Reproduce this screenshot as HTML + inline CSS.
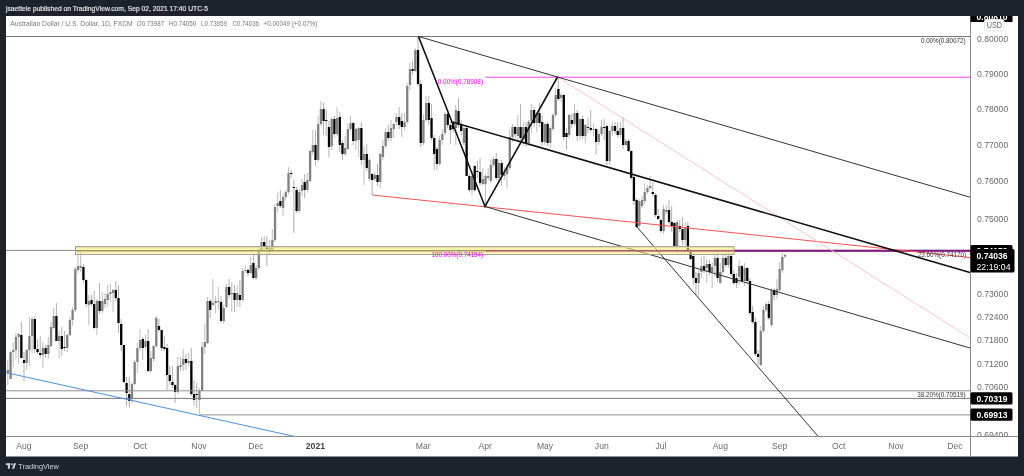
<!DOCTYPE html><html><head><meta charset="utf-8"><style>
html,body{margin:0;padding:0;background:#1e222d;width:1024px;height:476px;overflow:hidden}
svg{display:block;will-change:transform}
text{font-family:"Liberation Sans",sans-serif}
</style></head><body>
<svg width="1024" height="476" viewBox="0 0 1024 476">

<rect x="0" y="0" width="1024" height="476" fill="#1e222d"/>
<text x="6" y="10.6" font-size="8" fill="#eeeeee" stroke="#eeeeee" stroke-width="0.15" textLength="202" lengthAdjust="spacingAndGlyphs">jsaettele published on TradingView.com, Sep 02, 2021 17:40 UTC-5</text>
<rect x="6" y="16" width="1012" height="440.5" fill="#ffffff"/>
<text x="10.3" y="26" font-size="7.6" fill="#777777" textLength="122.4" lengthAdjust="spacingAndGlyphs">Australian Dollar / U.S. Dollar, 1D, FXCM</text>
<text x="136.8" y="26" font-size="7.6" fill="#777777" textLength="27.3" lengthAdjust="spacingAndGlyphs">O0.73987</text>
<text x="168.8" y="26" font-size="7.6" fill="#777777" textLength="27.5" lengthAdjust="spacingAndGlyphs">H0.74050</text>
<text x="201.0" y="26" font-size="7.6" fill="#777777" textLength="26.0" lengthAdjust="spacingAndGlyphs">L0.73959</text>
<text x="232.4" y="26" font-size="7.6" fill="#777777" textLength="26.6" lengthAdjust="spacingAndGlyphs">C0.74036</text>
<text x="263.6" y="26" font-size="7.6" fill="#777777" textLength="53.7" lengthAdjust="spacingAndGlyphs">+0.00049 (+0.07%)</text>
<defs><clipPath id="cp"><rect x="6" y="16" width="964.5" height="420.5"/></clipPath></defs>
<g clip-path="url(#cp)">
<line x1="7.81" y1="360.0" x2="7.81" y2="385.0" stroke="#bdbdbd" stroke-width="1"/>
<rect x="6.71" y="370.0" width="2.3" height="3.0" fill="#808080"/>
<line x1="10.51" y1="351.0" x2="10.51" y2="379.0" stroke="#bdbdbd" stroke-width="1"/>
<rect x="9.41" y="352.0" width="2.3" height="27.0" fill="#808080"/>
<line x1="13.21" y1="342.0" x2="13.21" y2="367.0" stroke="#bdbdbd" stroke-width="1"/>
<rect x="12.11" y="350.0" width="2.3" height="2.0" fill="#808080"/>
<line x1="15.90" y1="333.0" x2="15.90" y2="359.0" stroke="#bdbdbd" stroke-width="1"/>
<rect x="14.80" y="337.0" width="2.3" height="13.0" fill="#808080"/>
<line x1="18.60" y1="333.0" x2="18.60" y2="364.0" stroke="#bdbdbd" stroke-width="1"/>
<rect x="17.50" y="334.0" width="2.3" height="3.0" fill="#808080"/>
<line x1="21.30" y1="322.0" x2="21.30" y2="358.0" stroke="#b0b0b0" stroke-width="1"/>
<rect x="20.20" y="335.0" width="2.3" height="23.0" fill="#000000"/>
<line x1="24.00" y1="352.0" x2="24.00" y2="381.0" stroke="#b0b0b0" stroke-width="1"/>
<rect x="22.90" y="360.0" width="2.3" height="3.0" fill="#000000"/>
<line x1="26.70" y1="349.0" x2="26.70" y2="370.0" stroke="#bdbdbd" stroke-width="1"/>
<rect x="25.60" y="350.0" width="2.3" height="13.0" fill="#808080"/>
<line x1="29.40" y1="317.0" x2="29.40" y2="366.0" stroke="#bdbdbd" stroke-width="1"/>
<rect x="28.30" y="336.0" width="2.3" height="14.0" fill="#808080"/>
<line x1="32.10" y1="317.0" x2="32.10" y2="354.0" stroke="#bdbdbd" stroke-width="1"/>
<rect x="31.00" y="319.0" width="2.3" height="17.0" fill="#808080"/>
<line x1="34.79" y1="316.0" x2="34.79" y2="353.0" stroke="#b0b0b0" stroke-width="1"/>
<rect x="33.69" y="319.0" width="2.3" height="30.0" fill="#000000"/>
<line x1="37.49" y1="339.0" x2="37.49" y2="354.0" stroke="#b0b0b0" stroke-width="1"/>
<rect x="36.39" y="349.0" width="2.3" height="3.0" fill="#000000"/>
<line x1="40.19" y1="336.0" x2="40.19" y2="358.0" stroke="#b0b0b0" stroke-width="1"/>
<rect x="39.09" y="353.0" width="2.3" height="2.0" fill="#000000"/>
<line x1="42.89" y1="342.0" x2="42.89" y2="368.0" stroke="#bdbdbd" stroke-width="1"/>
<rect x="41.79" y="348.0" width="2.3" height="7.0" fill="#808080"/>
<line x1="45.59" y1="345.0" x2="45.59" y2="358.0" stroke="#b0b0b0" stroke-width="1"/>
<rect x="44.49" y="348.0" width="2.3" height="6.0" fill="#000000"/>
<line x1="48.29" y1="337.0" x2="48.29" y2="359.0" stroke="#bdbdbd" stroke-width="1"/>
<rect x="47.19" y="345.0" width="2.3" height="9.0" fill="#808080"/>
<line x1="50.99" y1="322.0" x2="50.99" y2="347.0" stroke="#bdbdbd" stroke-width="1"/>
<rect x="49.89" y="327.0" width="2.3" height="19.0" fill="#808080"/>
<line x1="53.68" y1="308.0" x2="53.68" y2="329.0" stroke="#bdbdbd" stroke-width="1"/>
<rect x="52.58" y="316.0" width="2.3" height="12.0" fill="#808080"/>
<line x1="56.38" y1="303.0" x2="56.38" y2="341.0" stroke="#b0b0b0" stroke-width="1"/>
<rect x="55.28" y="316.0" width="2.3" height="25.0" fill="#000000"/>
<line x1="59.08" y1="331.0" x2="59.08" y2="358.0" stroke="#bdbdbd" stroke-width="1"/>
<rect x="57.98" y="336.0" width="2.3" height="5.0" fill="#808080"/>
<line x1="61.78" y1="327.0" x2="61.78" y2="356.0" stroke="#b0b0b0" stroke-width="1"/>
<rect x="60.68" y="336.0" width="2.3" height="13.0" fill="#000000"/>
<line x1="64.48" y1="331.0" x2="64.48" y2="351.0" stroke="#b0b0b0" stroke-width="1"/>
<rect x="63.38" y="347.0" width="2.3" height="1.0" fill="#000000"/>
<line x1="67.18" y1="334.0" x2="67.18" y2="352.0" stroke="#bdbdbd" stroke-width="1"/>
<rect x="66.08" y="335.0" width="2.3" height="13.0" fill="#808080"/>
<line x1="69.88" y1="317.0" x2="69.88" y2="336.0" stroke="#bdbdbd" stroke-width="1"/>
<rect x="68.78" y="320.0" width="2.3" height="15.0" fill="#808080"/>
<line x1="72.57" y1="307.0" x2="72.57" y2="326.0" stroke="#bdbdbd" stroke-width="1"/>
<rect x="71.47" y="310.0" width="2.3" height="10.0" fill="#808080"/>
<line x1="75.27" y1="267.0" x2="75.27" y2="312.0" stroke="#bdbdbd" stroke-width="1"/>
<rect x="74.17" y="269.0" width="2.3" height="41.0" fill="#808080"/>
<line x1="77.97" y1="251.0" x2="77.97" y2="273.0" stroke="#bdbdbd" stroke-width="1"/>
<rect x="76.87" y="266.0" width="2.3" height="4.0" fill="#808080"/>
<line x1="80.67" y1="252.0" x2="80.67" y2="272.0" stroke="#bdbdbd" stroke-width="1"/>
<rect x="79.57" y="266.0" width="2.3" height="2.0" fill="#808080"/>
<line x1="83.37" y1="264.0" x2="83.37" y2="283.0" stroke="#b0b0b0" stroke-width="1"/>
<rect x="82.27" y="267.0" width="2.3" height="13.0" fill="#000000"/>
<line x1="86.07" y1="279.0" x2="86.07" y2="307.0" stroke="#b0b0b0" stroke-width="1"/>
<rect x="84.97" y="280.0" width="2.3" height="24.0" fill="#000000"/>
<line x1="88.77" y1="295.0" x2="88.77" y2="325.0" stroke="#bdbdbd" stroke-width="1"/>
<rect x="87.67" y="301.0" width="2.3" height="4.0" fill="#808080"/>
<line x1="91.47" y1="295.0" x2="91.47" y2="306.0" stroke="#b0b0b0" stroke-width="1"/>
<rect x="90.37" y="300.0" width="2.3" height="4.0" fill="#000000"/>
<line x1="94.16" y1="291.0" x2="94.16" y2="329.0" stroke="#b0b0b0" stroke-width="1"/>
<rect x="93.06" y="304.0" width="2.3" height="24.0" fill="#000000"/>
<line x1="96.86" y1="299.0" x2="96.86" y2="335.0" stroke="#bdbdbd" stroke-width="1"/>
<rect x="95.76" y="301.0" width="2.3" height="27.0" fill="#808080"/>
<line x1="99.56" y1="283.0" x2="99.56" y2="314.0" stroke="#b0b0b0" stroke-width="1"/>
<rect x="98.46" y="301.0" width="2.3" height="10.0" fill="#000000"/>
<line x1="102.26" y1="292.0" x2="102.26" y2="313.0" stroke="#bdbdbd" stroke-width="1"/>
<rect x="101.16" y="301.0" width="2.3" height="10.0" fill="#808080"/>
<line x1="104.96" y1="293.0" x2="104.96" y2="308.0" stroke="#bdbdbd" stroke-width="1"/>
<rect x="103.86" y="299.0" width="2.3" height="5.0" fill="#808080"/>
<line x1="107.66" y1="285.0" x2="107.66" y2="307.0" stroke="#bdbdbd" stroke-width="1"/>
<rect x="106.56" y="294.0" width="2.3" height="6.0" fill="#808080"/>
<line x1="110.36" y1="284.0" x2="110.36" y2="302.0" stroke="#bdbdbd" stroke-width="1"/>
<rect x="109.26" y="292.0" width="2.3" height="2.0" fill="#808080"/>
<line x1="113.05" y1="289.0" x2="113.05" y2="312.0" stroke="#bdbdbd" stroke-width="1"/>
<rect x="111.95" y="290.0" width="2.3" height="3.0" fill="#808080"/>
<line x1="115.75" y1="281.0" x2="115.75" y2="301.0" stroke="#b0b0b0" stroke-width="1"/>
<rect x="114.65" y="290.0" width="2.3" height="8.0" fill="#000000"/>
<line x1="118.45" y1="285.0" x2="118.45" y2="333.0" stroke="#b0b0b0" stroke-width="1"/>
<rect x="117.35" y="298.0" width="2.3" height="25.0" fill="#000000"/>
<line x1="121.15" y1="319.0" x2="121.15" y2="351.0" stroke="#b0b0b0" stroke-width="1"/>
<rect x="120.05" y="324.0" width="2.3" height="21.0" fill="#000000"/>
<line x1="123.85" y1="345.0" x2="123.85" y2="383.0" stroke="#b0b0b0" stroke-width="1"/>
<rect x="122.75" y="345.0" width="2.3" height="37.0" fill="#000000"/>
<line x1="126.55" y1="377.0" x2="126.55" y2="406.0" stroke="#b0b0b0" stroke-width="1"/>
<rect x="125.45" y="383.0" width="2.3" height="10.0" fill="#000000"/>
<line x1="129.25" y1="377.0" x2="129.25" y2="407.0" stroke="#b0b0b0" stroke-width="1"/>
<rect x="128.15" y="394.0" width="2.3" height="7.0" fill="#000000"/>
<line x1="131.94" y1="382.0" x2="131.94" y2="403.0" stroke="#bdbdbd" stroke-width="1"/>
<rect x="130.84" y="384.0" width="2.3" height="14.0" fill="#808080"/>
<line x1="134.64" y1="360.0" x2="134.64" y2="385.0" stroke="#bdbdbd" stroke-width="1"/>
<rect x="133.54" y="362.0" width="2.3" height="22.0" fill="#808080"/>
<line x1="137.34" y1="343.0" x2="137.34" y2="373.0" stroke="#bdbdbd" stroke-width="1"/>
<rect x="136.24" y="348.0" width="2.3" height="14.0" fill="#808080"/>
<line x1="140.04" y1="329.0" x2="140.04" y2="351.0" stroke="#bdbdbd" stroke-width="1"/>
<rect x="138.94" y="340.0" width="2.3" height="8.0" fill="#808080"/>
<line x1="142.74" y1="337.0" x2="142.74" y2="360.0" stroke="#b0b0b0" stroke-width="1"/>
<rect x="141.64" y="339.0" width="2.3" height="9.0" fill="#000000"/>
<line x1="145.44" y1="335.0" x2="145.44" y2="350.0" stroke="#bdbdbd" stroke-width="1"/>
<rect x="144.34" y="341.0" width="2.3" height="6.0" fill="#808080"/>
<line x1="148.14" y1="329.0" x2="148.14" y2="372.0" stroke="#b0b0b0" stroke-width="1"/>
<rect x="147.04" y="341.0" width="2.3" height="30.0" fill="#000000"/>
<line x1="150.83" y1="351.0" x2="150.83" y2="373.0" stroke="#bdbdbd" stroke-width="1"/>
<rect x="149.73" y="358.0" width="2.3" height="13.0" fill="#808080"/>
<line x1="153.53" y1="345.0" x2="153.53" y2="362.0" stroke="#bdbdbd" stroke-width="1"/>
<rect x="152.43" y="346.0" width="2.3" height="13.0" fill="#808080"/>
<line x1="156.23" y1="316.0" x2="156.23" y2="348.0" stroke="#bdbdbd" stroke-width="1"/>
<rect x="155.13" y="318.0" width="2.3" height="28.0" fill="#808080"/>
<line x1="158.93" y1="319.0" x2="158.93" y2="331.0" stroke="#b0b0b0" stroke-width="1"/>
<rect x="157.83" y="326.0" width="2.3" height="4.0" fill="#000000"/>
<line x1="161.63" y1="330.0" x2="161.63" y2="351.0" stroke="#b0b0b0" stroke-width="1"/>
<rect x="160.53" y="330.0" width="2.3" height="18.0" fill="#000000"/>
<line x1="164.33" y1="336.0" x2="164.33" y2="351.0" stroke="#b0b0b0" stroke-width="1"/>
<rect x="163.23" y="347.0" width="2.3" height="2.0" fill="#000000"/>
<line x1="167.03" y1="344.0" x2="167.03" y2="390.0" stroke="#b0b0b0" stroke-width="1"/>
<rect x="165.93" y="348.0" width="2.3" height="27.0" fill="#000000"/>
<line x1="169.72" y1="366.0" x2="169.72" y2="385.0" stroke="#b0b0b0" stroke-width="1"/>
<rect x="168.62" y="375.0" width="2.3" height="6.0" fill="#000000"/>
<line x1="172.42" y1="366.0" x2="172.42" y2="388.0" stroke="#b0b0b0" stroke-width="1"/>
<rect x="171.32" y="382.0" width="2.3" height="3.0" fill="#000000"/>
<line x1="175.12" y1="384.0" x2="175.12" y2="403.0" stroke="#b0b0b0" stroke-width="1"/>
<rect x="174.02" y="385.0" width="2.3" height="7.0" fill="#000000"/>
<line x1="177.82" y1="357.0" x2="177.82" y2="394.0" stroke="#bdbdbd" stroke-width="1"/>
<rect x="176.72" y="366.0" width="2.3" height="26.0" fill="#808080"/>
<line x1="180.52" y1="357.0" x2="180.52" y2="371.0" stroke="#bdbdbd" stroke-width="1"/>
<rect x="179.42" y="365.0" width="2.3" height="2.0" fill="#808080"/>
<line x1="183.22" y1="349.0" x2="183.22" y2="371.0" stroke="#bdbdbd" stroke-width="1"/>
<rect x="182.12" y="359.0" width="2.3" height="6.0" fill="#808080"/>
<line x1="185.92" y1="354.0" x2="185.92" y2="370.0" stroke="#b0b0b0" stroke-width="1"/>
<rect x="184.82" y="359.0" width="2.3" height="4.0" fill="#000000"/>
<line x1="188.61" y1="353.0" x2="188.61" y2="366.0" stroke="#bdbdbd" stroke-width="1"/>
<rect x="187.51" y="361.0" width="2.3" height="2.0" fill="#808080"/>
<line x1="191.31" y1="348.0" x2="191.31" y2="396.0" stroke="#b0b0b0" stroke-width="1"/>
<rect x="190.21" y="361.0" width="2.3" height="33.0" fill="#000000"/>
<line x1="194.01" y1="380.0" x2="194.01" y2="406.0" stroke="#b0b0b0" stroke-width="1"/>
<rect x="192.91" y="394.0" width="2.3" height="6.0" fill="#000000"/>
<line x1="196.71" y1="383.0" x2="196.71" y2="408.0" stroke="#b0b0b0" stroke-width="1"/>
<rect x="195.61" y="394.0" width="2.3" height="1.0" fill="#000000"/>
<line x1="199.41" y1="388.0" x2="199.41" y2="414.0" stroke="#bdbdbd" stroke-width="1"/>
<rect x="198.31" y="391.0" width="2.3" height="9.0" fill="#808080"/>
<line x1="202.11" y1="342.0" x2="202.11" y2="391.0" stroke="#bdbdbd" stroke-width="1"/>
<rect x="201.01" y="347.0" width="2.3" height="44.0" fill="#808080"/>
<line x1="204.81" y1="324.0" x2="204.81" y2="354.0" stroke="#bdbdbd" stroke-width="1"/>
<rect x="203.71" y="342.0" width="2.3" height="5.0" fill="#808080"/>
<line x1="207.50" y1="297.0" x2="207.50" y2="344.0" stroke="#bdbdbd" stroke-width="1"/>
<rect x="206.40" y="301.0" width="2.3" height="42.0" fill="#808080"/>
<line x1="210.20" y1="299.0" x2="210.20" y2="318.0" stroke="#b0b0b0" stroke-width="1"/>
<rect x="209.10" y="301.0" width="2.3" height="9.0" fill="#000000"/>
<line x1="212.90" y1="279.0" x2="212.90" y2="306.0" stroke="#bdbdbd" stroke-width="1"/>
<rect x="211.80" y="303.0" width="2.3" height="2.0" fill="#808080"/>
<line x1="215.60" y1="296.0" x2="215.60" y2="313.0" stroke="#bdbdbd" stroke-width="1"/>
<rect x="214.50" y="301.0" width="2.3" height="2.0" fill="#808080"/>
<line x1="218.30" y1="287.0" x2="218.30" y2="310.0" stroke="#bdbdbd" stroke-width="1"/>
<rect x="217.20" y="301.0" width="2.3" height="1.0" fill="#808080"/>
<line x1="221.00" y1="296.0" x2="221.00" y2="323.0" stroke="#b0b0b0" stroke-width="1"/>
<rect x="219.90" y="302.0" width="2.3" height="19.0" fill="#000000"/>
<line x1="223.70" y1="305.0" x2="223.70" y2="324.0" stroke="#bdbdbd" stroke-width="1"/>
<rect x="222.60" y="308.0" width="2.3" height="13.0" fill="#808080"/>
<line x1="226.39" y1="284.0" x2="226.39" y2="308.0" stroke="#bdbdbd" stroke-width="1"/>
<rect x="225.29" y="287.0" width="2.3" height="20.0" fill="#808080"/>
<line x1="229.09" y1="279.0" x2="229.09" y2="298.0" stroke="#b0b0b0" stroke-width="1"/>
<rect x="227.99" y="287.0" width="2.3" height="8.0" fill="#000000"/>
<line x1="231.79" y1="282.0" x2="231.79" y2="312.0" stroke="#bdbdbd" stroke-width="1"/>
<rect x="230.69" y="293.0" width="2.3" height="1.0" fill="#808080"/>
<line x1="234.49" y1="285.0" x2="234.49" y2="312.0" stroke="#b0b0b0" stroke-width="1"/>
<rect x="233.39" y="293.0" width="2.3" height="7.0" fill="#000000"/>
<line x1="237.19" y1="285.0" x2="237.19" y2="307.0" stroke="#bdbdbd" stroke-width="1"/>
<rect x="236.09" y="293.0" width="2.3" height="7.0" fill="#808080"/>
<line x1="239.89" y1="280.0" x2="239.89" y2="307.0" stroke="#b0b0b0" stroke-width="1"/>
<rect x="238.79" y="295.0" width="2.3" height="5.0" fill="#000000"/>
<line x1="242.59" y1="268.0" x2="242.59" y2="301.0" stroke="#bdbdbd" stroke-width="1"/>
<rect x="241.49" y="271.0" width="2.3" height="29.0" fill="#808080"/>
<line x1="245.29" y1="265.0" x2="245.29" y2="273.0" stroke="#bdbdbd" stroke-width="1"/>
<rect x="244.19" y="270.0" width="2.3" height="1.0" fill="#808080"/>
<line x1="247.98" y1="268.0" x2="247.98" y2="276.0" stroke="#b0b0b0" stroke-width="1"/>
<rect x="246.88" y="270.0" width="2.3" height="3.0" fill="#000000"/>
<line x1="250.68" y1="257.0" x2="250.68" y2="274.0" stroke="#bdbdbd" stroke-width="1"/>
<rect x="249.58" y="265.0" width="2.3" height="8.0" fill="#808080"/>
<line x1="253.38" y1="255.0" x2="253.38" y2="279.0" stroke="#b0b0b0" stroke-width="1"/>
<rect x="252.28" y="263.0" width="2.3" height="15.0" fill="#000000"/>
<line x1="256.08" y1="265.0" x2="256.08" y2="280.0" stroke="#bdbdbd" stroke-width="1"/>
<rect x="254.98" y="268.0" width="2.3" height="10.0" fill="#808080"/>
<line x1="258.78" y1="246.0" x2="258.78" y2="270.0" stroke="#bdbdbd" stroke-width="1"/>
<rect x="257.68" y="250.0" width="2.3" height="18.0" fill="#808080"/>
<line x1="261.48" y1="237.0" x2="261.48" y2="252.0" stroke="#bdbdbd" stroke-width="1"/>
<rect x="260.38" y="242.0" width="2.3" height="8.0" fill="#808080"/>
<line x1="264.18" y1="236.0" x2="264.18" y2="250.0" stroke="#b0b0b0" stroke-width="1"/>
<rect x="263.08" y="242.0" width="2.3" height="4.0" fill="#000000"/>
<line x1="266.87" y1="236.0" x2="266.87" y2="266.0" stroke="#b0b0b0" stroke-width="1"/>
<rect x="265.77" y="246.0" width="2.3" height="3.0" fill="#000000"/>
<line x1="269.57" y1="240.0" x2="269.57" y2="255.0" stroke="#bdbdbd" stroke-width="1"/>
<rect x="268.47" y="247.0" width="2.3" height="5.0" fill="#808080"/>
<line x1="272.27" y1="229.0" x2="272.27" y2="252.0" stroke="#bdbdbd" stroke-width="1"/>
<rect x="271.17" y="240.0" width="2.3" height="10.0" fill="#808080"/>
<line x1="274.97" y1="204.0" x2="274.97" y2="242.0" stroke="#bdbdbd" stroke-width="1"/>
<rect x="273.87" y="207.0" width="2.3" height="33.0" fill="#808080"/>
<line x1="277.67" y1="193.0" x2="277.67" y2="212.0" stroke="#bdbdbd" stroke-width="1"/>
<rect x="276.57" y="203.0" width="2.3" height="3.0" fill="#808080"/>
<line x1="280.37" y1="190.0" x2="280.37" y2="208.0" stroke="#b0b0b0" stroke-width="1"/>
<rect x="279.27" y="201.0" width="2.3" height="5.0" fill="#000000"/>
<line x1="283.07" y1="194.0" x2="283.07" y2="216.0" stroke="#bdbdbd" stroke-width="1"/>
<rect x="281.97" y="197.0" width="2.3" height="11.0" fill="#808080"/>
<line x1="285.76" y1="190.0" x2="285.76" y2="200.0" stroke="#bdbdbd" stroke-width="1"/>
<rect x="284.66" y="192.0" width="2.3" height="5.0" fill="#808080"/>
<line x1="288.46" y1="167.0" x2="288.46" y2="194.0" stroke="#bdbdbd" stroke-width="1"/>
<rect x="287.36" y="173.0" width="2.3" height="19.0" fill="#808080"/>
<line x1="291.16" y1="170.0" x2="291.16" y2="178.0" stroke="#b0b0b0" stroke-width="1"/>
<rect x="290.06" y="173.0" width="2.3" height="1.0" fill="#000000"/>
<line x1="293.86" y1="180.0" x2="293.86" y2="233.0" stroke="#b0b0b0" stroke-width="1"/>
<rect x="292.76" y="187.0" width="2.3" height="1.0" fill="#000000"/>
<line x1="296.56" y1="187.0" x2="296.56" y2="213.0" stroke="#b0b0b0" stroke-width="1"/>
<rect x="295.46" y="190.0" width="2.3" height="21.0" fill="#000000"/>
<line x1="299.26" y1="189.0" x2="299.26" y2="213.0" stroke="#bdbdbd" stroke-width="1"/>
<rect x="298.16" y="192.0" width="2.3" height="19.0" fill="#808080"/>
<line x1="301.96" y1="179.0" x2="301.96" y2="196.0" stroke="#bdbdbd" stroke-width="1"/>
<rect x="300.86" y="185.0" width="2.3" height="6.0" fill="#808080"/>
<line x1="304.65" y1="174.0" x2="304.65" y2="198.0" stroke="#b0b0b0" stroke-width="1"/>
<rect x="303.55" y="182.0" width="2.3" height="8.0" fill="#000000"/>
<line x1="307.35" y1="173.0" x2="307.35" y2="192.0" stroke="#bdbdbd" stroke-width="1"/>
<rect x="306.25" y="180.0" width="2.3" height="10.0" fill="#808080"/>
<line x1="310.05" y1="150.0" x2="310.05" y2="182.0" stroke="#bdbdbd" stroke-width="1"/>
<rect x="308.95" y="151.0" width="2.3" height="30.0" fill="#808080"/>
<line x1="312.75" y1="130.0" x2="312.75" y2="155.0" stroke="#bdbdbd" stroke-width="1"/>
<rect x="311.65" y="145.0" width="2.3" height="7.0" fill="#808080"/>
<line x1="315.45" y1="130.0" x2="315.45" y2="166.0" stroke="#b0b0b0" stroke-width="1"/>
<rect x="314.35" y="145.0" width="2.3" height="15.0" fill="#000000"/>
<line x1="318.15" y1="116.0" x2="318.15" y2="162.0" stroke="#bdbdbd" stroke-width="1"/>
<rect x="317.05" y="124.0" width="2.3" height="36.0" fill="#808080"/>
<line x1="320.85" y1="101.0" x2="320.85" y2="126.0" stroke="#bdbdbd" stroke-width="1"/>
<rect x="319.75" y="109.0" width="2.3" height="15.0" fill="#808080"/>
<line x1="323.54" y1="103.0" x2="323.54" y2="135.0" stroke="#b0b0b0" stroke-width="1"/>
<rect x="322.44" y="109.0" width="2.3" height="12.0" fill="#000000"/>
<line x1="326.24" y1="110.0" x2="326.24" y2="136.0" stroke="#b0b0b0" stroke-width="1"/>
<rect x="325.14" y="120.0" width="2.3" height="1.0" fill="#000000"/>
<line x1="328.94" y1="121.0" x2="328.94" y2="157.0" stroke="#b0b0b0" stroke-width="1"/>
<rect x="327.84" y="127.0" width="2.3" height="20.0" fill="#000000"/>
<line x1="331.64" y1="117.0" x2="331.64" y2="150.0" stroke="#bdbdbd" stroke-width="1"/>
<rect x="330.54" y="119.0" width="2.3" height="27.0" fill="#808080"/>
<line x1="334.34" y1="116.0" x2="334.34" y2="137.0" stroke="#b0b0b0" stroke-width="1"/>
<rect x="333.24" y="119.0" width="2.3" height="15.0" fill="#000000"/>
<line x1="337.04" y1="107.0" x2="337.04" y2="136.0" stroke="#bdbdbd" stroke-width="1"/>
<rect x="335.94" y="118.0" width="2.3" height="16.0" fill="#808080"/>
<line x1="339.74" y1="112.0" x2="339.74" y2="152.0" stroke="#b0b0b0" stroke-width="1"/>
<rect x="338.64" y="117.0" width="2.3" height="28.0" fill="#000000"/>
<line x1="342.43" y1="140.0" x2="342.43" y2="160.0" stroke="#b0b0b0" stroke-width="1"/>
<rect x="341.33" y="143.0" width="2.3" height="11.0" fill="#000000"/>
<line x1="345.13" y1="136.0" x2="345.13" y2="156.0" stroke="#bdbdbd" stroke-width="1"/>
<rect x="344.03" y="148.0" width="2.3" height="6.0" fill="#808080"/>
<line x1="347.83" y1="124.0" x2="347.83" y2="150.0" stroke="#bdbdbd" stroke-width="1"/>
<rect x="346.73" y="129.0" width="2.3" height="20.0" fill="#808080"/>
<line x1="350.53" y1="116.0" x2="350.53" y2="131.0" stroke="#bdbdbd" stroke-width="1"/>
<rect x="349.43" y="123.0" width="2.3" height="6.0" fill="#808080"/>
<line x1="353.23" y1="122.0" x2="353.23" y2="145.0" stroke="#b0b0b0" stroke-width="1"/>
<rect x="352.13" y="123.0" width="2.3" height="18.0" fill="#000000"/>
<line x1="355.93" y1="128.0" x2="355.93" y2="150.0" stroke="#bdbdbd" stroke-width="1"/>
<rect x="354.83" y="129.0" width="2.3" height="12.0" fill="#808080"/>
<line x1="358.63" y1="127.0" x2="358.63" y2="157.0" stroke="#bdbdbd" stroke-width="1"/>
<rect x="357.53" y="128.0" width="2.3" height="12.0" fill="#808080"/>
<line x1="361.32" y1="122.0" x2="361.32" y2="165.0" stroke="#b0b0b0" stroke-width="1"/>
<rect x="360.22" y="128.0" width="2.3" height="32.0" fill="#000000"/>
<line x1="364.02" y1="146.0" x2="364.02" y2="185.0" stroke="#bdbdbd" stroke-width="1"/>
<rect x="362.92" y="154.0" width="2.3" height="6.0" fill="#808080"/>
<line x1="366.72" y1="144.0" x2="366.72" y2="171.0" stroke="#b0b0b0" stroke-width="1"/>
<rect x="365.62" y="154.0" width="2.3" height="14.0" fill="#000000"/>
<line x1="369.42" y1="158.0" x2="369.42" y2="181.0" stroke="#bdbdbd" stroke-width="1"/>
<rect x="368.32" y="160.0" width="2.3" height="19.0" fill="#808080"/>
<line x1="372.12" y1="173.0" x2="372.12" y2="195.0" stroke="#b0b0b0" stroke-width="1"/>
<rect x="371.02" y="174.0" width="2.3" height="6.0" fill="#000000"/>
<line x1="374.82" y1="172.0" x2="374.82" y2="181.0" stroke="#bdbdbd" stroke-width="1"/>
<rect x="373.72" y="175.0" width="2.3" height="4.0" fill="#808080"/>
<line x1="377.52" y1="164.0" x2="377.52" y2="186.0" stroke="#b0b0b0" stroke-width="1"/>
<rect x="376.42" y="175.0" width="2.3" height="7.0" fill="#000000"/>
<line x1="380.22" y1="153.0" x2="380.22" y2="188.0" stroke="#bdbdbd" stroke-width="1"/>
<rect x="379.12" y="154.0" width="2.3" height="28.0" fill="#808080"/>
<line x1="382.91" y1="140.0" x2="382.91" y2="160.0" stroke="#bdbdbd" stroke-width="1"/>
<rect x="381.81" y="146.0" width="2.3" height="11.0" fill="#808080"/>
<line x1="385.61" y1="128.0" x2="385.61" y2="148.0" stroke="#bdbdbd" stroke-width="1"/>
<rect x="384.51" y="132.0" width="2.3" height="14.0" fill="#808080"/>
<line x1="388.31" y1="125.0" x2="388.31" y2="141.0" stroke="#b0b0b0" stroke-width="1"/>
<rect x="387.21" y="132.0" width="2.3" height="6.0" fill="#000000"/>
<line x1="391.01" y1="120.0" x2="391.01" y2="141.0" stroke="#bdbdbd" stroke-width="1"/>
<rect x="389.91" y="128.0" width="2.3" height="10.0" fill="#808080"/>
<line x1="393.71" y1="123.0" x2="393.71" y2="138.0" stroke="#bdbdbd" stroke-width="1"/>
<rect x="392.61" y="124.0" width="2.3" height="5.0" fill="#808080"/>
<line x1="396.41" y1="113.0" x2="396.41" y2="125.0" stroke="#bdbdbd" stroke-width="1"/>
<rect x="395.31" y="117.0" width="2.3" height="5.0" fill="#808080"/>
<line x1="399.11" y1="107.0" x2="399.11" y2="129.0" stroke="#b0b0b0" stroke-width="1"/>
<rect x="398.01" y="117.0" width="2.3" height="8.0" fill="#000000"/>
<line x1="401.80" y1="113.0" x2="401.80" y2="137.0" stroke="#b0b0b0" stroke-width="1"/>
<rect x="400.70" y="121.0" width="2.3" height="6.0" fill="#000000"/>
<line x1="404.50" y1="113.0" x2="404.50" y2="130.0" stroke="#bdbdbd" stroke-width="1"/>
<rect x="403.40" y="122.0" width="2.3" height="5.0" fill="#808080"/>
<line x1="407.20" y1="83.0" x2="407.20" y2="124.0" stroke="#bdbdbd" stroke-width="1"/>
<rect x="406.10" y="86.0" width="2.3" height="36.0" fill="#808080"/>
<line x1="409.90" y1="63.0" x2="409.90" y2="90.0" stroke="#bdbdbd" stroke-width="1"/>
<rect x="408.80" y="69.0" width="2.3" height="16.0" fill="#808080"/>
<line x1="412.60" y1="61.0" x2="412.60" y2="75.0" stroke="#b0b0b0" stroke-width="1"/>
<rect x="411.50" y="69.0" width="2.3" height="2.0" fill="#000000"/>
<line x1="415.30" y1="48.0" x2="415.30" y2="72.0" stroke="#bdbdbd" stroke-width="1"/>
<rect x="414.20" y="50.0" width="2.3" height="21.0" fill="#808080"/>
<line x1="418.00" y1="36.5" x2="418.00" y2="86.0" stroke="#b0b0b0" stroke-width="1"/>
<rect x="416.90" y="50.0" width="2.3" height="34.0" fill="#000000"/>
<line x1="420.69" y1="80.0" x2="420.69" y2="147.0" stroke="#b0b0b0" stroke-width="1"/>
<rect x="419.59" y="84.0" width="2.3" height="59.0" fill="#000000"/>
<line x1="423.39" y1="114.0" x2="423.39" y2="145.0" stroke="#bdbdbd" stroke-width="1"/>
<rect x="422.29" y="120.0" width="2.3" height="23.0" fill="#808080"/>
<line x1="426.09" y1="96.0" x2="426.09" y2="122.0" stroke="#bdbdbd" stroke-width="1"/>
<rect x="424.99" y="103.0" width="2.3" height="17.0" fill="#808080"/>
<line x1="428.79" y1="96.0" x2="428.79" y2="125.0" stroke="#b0b0b0" stroke-width="1"/>
<rect x="427.69" y="103.0" width="2.3" height="17.0" fill="#000000"/>
<line x1="431.49" y1="104.0" x2="431.49" y2="140.0" stroke="#b0b0b0" stroke-width="1"/>
<rect x="430.39" y="118.0" width="2.3" height="20.0" fill="#000000"/>
<line x1="434.19" y1="135.0" x2="434.19" y2="170.0" stroke="#b0b0b0" stroke-width="1"/>
<rect x="433.09" y="138.0" width="2.3" height="16.0" fill="#000000"/>
<line x1="436.89" y1="147.0" x2="436.89" y2="170.0" stroke="#b0b0b0" stroke-width="1"/>
<rect x="435.79" y="149.0" width="2.3" height="15.0" fill="#000000"/>
<line x1="439.58" y1="136.0" x2="439.58" y2="166.0" stroke="#bdbdbd" stroke-width="1"/>
<rect x="438.48" y="140.0" width="2.3" height="24.0" fill="#808080"/>
<line x1="442.28" y1="129.0" x2="442.28" y2="145.0" stroke="#bdbdbd" stroke-width="1"/>
<rect x="441.18" y="134.0" width="2.3" height="6.0" fill="#808080"/>
<line x1="444.98" y1="112.0" x2="444.98" y2="135.0" stroke="#bdbdbd" stroke-width="1"/>
<rect x="443.88" y="114.0" width="2.3" height="19.0" fill="#808080"/>
<line x1="447.68" y1="111.0" x2="447.68" y2="128.0" stroke="#b0b0b0" stroke-width="1"/>
<rect x="446.58" y="114.0" width="2.3" height="11.0" fill="#000000"/>
<line x1="450.38" y1="122.0" x2="450.38" y2="144.0" stroke="#b0b0b0" stroke-width="1"/>
<rect x="449.28" y="125.0" width="2.3" height="5.0" fill="#000000"/>
<line x1="453.08" y1="121.0" x2="453.08" y2="133.0" stroke="#b0b0b0" stroke-width="1"/>
<rect x="451.98" y="123.0" width="2.3" height="6.0" fill="#000000"/>
<line x1="455.78" y1="105.0" x2="455.78" y2="145.0" stroke="#bdbdbd" stroke-width="1"/>
<rect x="454.68" y="110.0" width="2.3" height="18.0" fill="#808080"/>
<line x1="458.47" y1="98.0" x2="458.47" y2="128.0" stroke="#b0b0b0" stroke-width="1"/>
<rect x="457.37" y="111.0" width="2.3" height="14.0" fill="#000000"/>
<line x1="461.17" y1="120.0" x2="461.17" y2="135.0" stroke="#b0b0b0" stroke-width="1"/>
<rect x="460.07" y="124.0" width="2.3" height="7.0" fill="#000000"/>
<line x1="463.87" y1="127.0" x2="463.87" y2="145.0" stroke="#bdbdbd" stroke-width="1"/>
<rect x="462.77" y="128.0" width="2.3" height="15.0" fill="#808080"/>
<line x1="466.57" y1="125.0" x2="466.57" y2="176.0" stroke="#b0b0b0" stroke-width="1"/>
<rect x="465.47" y="128.0" width="2.3" height="48.0" fill="#000000"/>
<line x1="469.27" y1="174.0" x2="469.27" y2="192.0" stroke="#b0b0b0" stroke-width="1"/>
<rect x="468.17" y="176.0" width="2.3" height="14.0" fill="#000000"/>
<line x1="471.97" y1="174.0" x2="471.97" y2="195.0" stroke="#bdbdbd" stroke-width="1"/>
<rect x="470.87" y="176.0" width="2.3" height="14.0" fill="#808080"/>
<line x1="474.67" y1="165.0" x2="474.67" y2="192.0" stroke="#b0b0b0" stroke-width="1"/>
<rect x="473.57" y="166.0" width="2.3" height="24.0" fill="#000000"/>
<line x1="477.36" y1="161.0" x2="477.36" y2="178.0" stroke="#b0b0b0" stroke-width="1"/>
<rect x="476.26" y="171.0" width="2.3" height="1.0" fill="#000000"/>
<line x1="480.06" y1="158.0" x2="480.06" y2="185.0" stroke="#b0b0b0" stroke-width="1"/>
<rect x="478.96" y="172.0" width="2.3" height="11.0" fill="#000000"/>
<line x1="482.76" y1="168.0" x2="482.76" y2="185.0" stroke="#bdbdbd" stroke-width="1"/>
<rect x="481.66" y="179.0" width="2.3" height="5.0" fill="#808080"/>
<line x1="485.46" y1="174.0" x2="485.46" y2="206.5" stroke="#bdbdbd" stroke-width="1"/>
<rect x="484.36" y="176.0" width="2.3" height="8.0" fill="#808080"/>
<line x1="488.16" y1="168.0" x2="488.16" y2="180.0" stroke="#bdbdbd" stroke-width="1"/>
<rect x="487.06" y="176.0" width="2.3" height="2.0" fill="#808080"/>
<line x1="490.86" y1="160.0" x2="490.86" y2="183.0" stroke="#bdbdbd" stroke-width="1"/>
<rect x="489.76" y="165.0" width="2.3" height="16.0" fill="#808080"/>
<line x1="493.56" y1="157.0" x2="493.56" y2="167.0" stroke="#bdbdbd" stroke-width="1"/>
<rect x="492.46" y="159.0" width="2.3" height="6.0" fill="#808080"/>
<line x1="496.25" y1="153.0" x2="496.25" y2="180.0" stroke="#b0b0b0" stroke-width="1"/>
<rect x="495.15" y="159.0" width="2.3" height="19.0" fill="#000000"/>
<line x1="498.95" y1="160.0" x2="498.95" y2="182.0" stroke="#bdbdbd" stroke-width="1"/>
<rect x="497.85" y="163.0" width="2.3" height="15.0" fill="#808080"/>
<line x1="501.65" y1="160.0" x2="501.65" y2="186.0" stroke="#b0b0b0" stroke-width="1"/>
<rect x="500.55" y="163.0" width="2.3" height="12.0" fill="#000000"/>
<line x1="504.35" y1="167.0" x2="504.35" y2="180.0" stroke="#bdbdbd" stroke-width="1"/>
<rect x="503.25" y="173.0" width="2.3" height="3.0" fill="#808080"/>
<line x1="507.05" y1="164.0" x2="507.05" y2="188.0" stroke="#bdbdbd" stroke-width="1"/>
<rect x="505.95" y="168.0" width="2.3" height="6.0" fill="#808080"/>
<line x1="509.75" y1="130.0" x2="509.75" y2="170.0" stroke="#bdbdbd" stroke-width="1"/>
<rect x="508.65" y="137.0" width="2.3" height="31.0" fill="#808080"/>
<line x1="512.45" y1="124.0" x2="512.45" y2="142.0" stroke="#bdbdbd" stroke-width="1"/>
<rect x="511.35" y="127.0" width="2.3" height="10.0" fill="#808080"/>
<line x1="515.15" y1="126.0" x2="515.15" y2="138.0" stroke="#b0b0b0" stroke-width="1"/>
<rect x="514.05" y="127.0" width="2.3" height="7.0" fill="#000000"/>
<line x1="517.84" y1="115.0" x2="517.84" y2="140.0" stroke="#bdbdbd" stroke-width="1"/>
<rect x="516.74" y="127.0" width="2.3" height="9.0" fill="#808080"/>
<line x1="520.54" y1="104.0" x2="520.54" y2="141.0" stroke="#b0b0b0" stroke-width="1"/>
<rect x="519.44" y="127.0" width="2.3" height="11.0" fill="#000000"/>
<line x1="523.24" y1="122.0" x2="523.24" y2="146.0" stroke="#bdbdbd" stroke-width="1"/>
<rect x="522.14" y="127.0" width="2.3" height="12.0" fill="#808080"/>
<line x1="525.94" y1="122.0" x2="525.94" y2="147.0" stroke="#b0b0b0" stroke-width="1"/>
<rect x="524.84" y="127.0" width="2.3" height="16.0" fill="#000000"/>
<line x1="528.64" y1="120.0" x2="528.64" y2="146.0" stroke="#bdbdbd" stroke-width="1"/>
<rect x="527.54" y="121.5" width="2.3" height="21.5" fill="#808080"/>
<line x1="531.34" y1="104.0" x2="531.34" y2="133.0" stroke="#bdbdbd" stroke-width="1"/>
<rect x="530.24" y="110.0" width="2.3" height="11.0" fill="#808080"/>
<line x1="534.04" y1="107.0" x2="534.04" y2="127.0" stroke="#b0b0b0" stroke-width="1"/>
<rect x="532.94" y="110.0" width="2.3" height="13.0" fill="#000000"/>
<line x1="536.73" y1="112.0" x2="536.73" y2="132.0" stroke="#bdbdbd" stroke-width="1"/>
<rect x="535.63" y="114.0" width="2.3" height="9.0" fill="#808080"/>
<line x1="539.43" y1="103.0" x2="539.43" y2="127.0" stroke="#b0b0b0" stroke-width="1"/>
<rect x="538.33" y="113.0" width="2.3" height="10.0" fill="#000000"/>
<line x1="542.13" y1="115.0" x2="542.13" y2="146.0" stroke="#b0b0b0" stroke-width="1"/>
<rect x="541.03" y="122.0" width="2.3" height="20.0" fill="#000000"/>
<line x1="544.83" y1="123.0" x2="544.83" y2="145.0" stroke="#bdbdbd" stroke-width="1"/>
<rect x="543.73" y="124.0" width="2.3" height="18.0" fill="#808080"/>
<line x1="547.53" y1="122.0" x2="547.53" y2="146.0" stroke="#b0b0b0" stroke-width="1"/>
<rect x="546.43" y="124.0" width="2.3" height="19.0" fill="#000000"/>
<line x1="550.23" y1="126.0" x2="550.23" y2="148.0" stroke="#bdbdbd" stroke-width="1"/>
<rect x="549.13" y="128.0" width="2.3" height="15.0" fill="#808080"/>
<line x1="552.93" y1="113.0" x2="552.93" y2="131.0" stroke="#bdbdbd" stroke-width="1"/>
<rect x="551.83" y="115.0" width="2.3" height="14.0" fill="#808080"/>
<line x1="555.62" y1="88.0" x2="555.62" y2="117.0" stroke="#bdbdbd" stroke-width="1"/>
<rect x="554.52" y="95.0" width="2.3" height="20.0" fill="#808080"/>
<line x1="558.32" y1="77.0" x2="558.32" y2="101.0" stroke="#b0b0b0" stroke-width="1"/>
<rect x="557.22" y="89.0" width="2.3" height="10.0" fill="#000000"/>
<line x1="561.02" y1="93.0" x2="561.02" y2="101.0" stroke="#bdbdbd" stroke-width="1"/>
<rect x="559.92" y="95.0" width="2.3" height="3.0" fill="#808080"/>
<line x1="563.72" y1="94.0" x2="563.72" y2="140.0" stroke="#b0b0b0" stroke-width="1"/>
<rect x="562.62" y="95.0" width="2.3" height="42.0" fill="#000000"/>
<line x1="566.42" y1="128.0" x2="566.42" y2="150.0" stroke="#b0b0b0" stroke-width="1"/>
<rect x="565.32" y="133.0" width="2.3" height="4.0" fill="#000000"/>
<line x1="569.12" y1="114.0" x2="569.12" y2="138.0" stroke="#bdbdbd" stroke-width="1"/>
<rect x="568.02" y="115.0" width="2.3" height="20.0" fill="#808080"/>
<line x1="571.82" y1="114.0" x2="571.82" y2="128.0" stroke="#b0b0b0" stroke-width="1"/>
<rect x="570.72" y="120.0" width="2.3" height="4.0" fill="#000000"/>
<line x1="574.51" y1="104.0" x2="574.51" y2="126.0" stroke="#bdbdbd" stroke-width="1"/>
<rect x="573.41" y="113.0" width="2.3" height="11.0" fill="#808080"/>
<line x1="577.21" y1="110.0" x2="577.21" y2="141.0" stroke="#b0b0b0" stroke-width="1"/>
<rect x="576.11" y="113.0" width="2.3" height="23.0" fill="#000000"/>
<line x1="579.91" y1="118.0" x2="579.91" y2="140.0" stroke="#bdbdbd" stroke-width="1"/>
<rect x="578.81" y="119.0" width="2.3" height="17.0" fill="#808080"/>
<line x1="582.61" y1="116.0" x2="582.61" y2="139.0" stroke="#b0b0b0" stroke-width="1"/>
<rect x="581.51" y="119.0" width="2.3" height="17.0" fill="#000000"/>
<line x1="585.31" y1="124.0" x2="585.31" y2="143.0" stroke="#bdbdbd" stroke-width="1"/>
<rect x="584.21" y="125.0" width="2.3" height="11.0" fill="#808080"/>
<line x1="588.01" y1="118.0" x2="588.01" y2="133.0" stroke="#b0b0b0" stroke-width="1"/>
<rect x="586.91" y="127.0" width="2.3" height="1.0" fill="#000000"/>
<line x1="590.71" y1="110.0" x2="590.71" y2="132.0" stroke="#b0b0b0" stroke-width="1"/>
<rect x="589.61" y="128.0" width="2.3" height="2.0" fill="#000000"/>
<line x1="593.40" y1="124.0" x2="593.40" y2="136.0" stroke="#bdbdbd" stroke-width="1"/>
<rect x="592.30" y="129.0" width="2.3" height="1.0" fill="#808080"/>
<line x1="596.10" y1="128.0" x2="596.10" y2="154.0" stroke="#b0b0b0" stroke-width="1"/>
<rect x="595.00" y="129.0" width="2.3" height="13.0" fill="#000000"/>
<line x1="598.80" y1="130.0" x2="598.80" y2="145.0" stroke="#bdbdbd" stroke-width="1"/>
<rect x="597.70" y="134.0" width="2.3" height="8.0" fill="#808080"/>
<line x1="601.50" y1="120.0" x2="601.50" y2="136.0" stroke="#bdbdbd" stroke-width="1"/>
<rect x="600.40" y="127.0" width="2.3" height="7.0" fill="#808080"/>
<line x1="604.20" y1="119.0" x2="604.20" y2="140.0" stroke="#b0b0b0" stroke-width="1"/>
<rect x="603.10" y="127.0" width="2.3" height="1.0" fill="#000000"/>
<line x1="606.90" y1="125.0" x2="606.90" y2="165.0" stroke="#b0b0b0" stroke-width="1"/>
<rect x="605.80" y="126.0" width="2.3" height="35.0" fill="#000000"/>
<line x1="609.60" y1="130.0" x2="609.60" y2="165.0" stroke="#bdbdbd" stroke-width="1"/>
<rect x="608.50" y="131.0" width="2.3" height="30.0" fill="#808080"/>
<line x1="612.29" y1="122.0" x2="612.29" y2="136.0" stroke="#bdbdbd" stroke-width="1"/>
<rect x="611.19" y="126.0" width="2.3" height="5.0" fill="#808080"/>
<line x1="614.99" y1="122.0" x2="614.99" y2="134.0" stroke="#b0b0b0" stroke-width="1"/>
<rect x="613.89" y="126.0" width="2.3" height="5.0" fill="#000000"/>
<line x1="617.69" y1="122.0" x2="617.69" y2="137.0" stroke="#b0b0b0" stroke-width="1"/>
<rect x="616.59" y="131.0" width="2.3" height="4.0" fill="#000000"/>
<line x1="620.39" y1="122.0" x2="620.39" y2="138.0" stroke="#bdbdbd" stroke-width="1"/>
<rect x="619.29" y="128.0" width="2.3" height="7.0" fill="#808080"/>
<line x1="623.09" y1="117.0" x2="623.09" y2="149.0" stroke="#b0b0b0" stroke-width="1"/>
<rect x="621.99" y="128.0" width="2.3" height="17.0" fill="#000000"/>
<line x1="625.79" y1="139.0" x2="625.79" y2="146.0" stroke="#bdbdbd" stroke-width="1"/>
<rect x="624.69" y="141.0" width="2.3" height="4.0" fill="#808080"/>
<line x1="628.49" y1="139.0" x2="628.49" y2="152.0" stroke="#b0b0b0" stroke-width="1"/>
<rect x="627.39" y="141.0" width="2.3" height="10.0" fill="#000000"/>
<line x1="631.18" y1="150.0" x2="631.18" y2="180.0" stroke="#b0b0b0" stroke-width="1"/>
<rect x="630.08" y="151.0" width="2.3" height="27.0" fill="#000000"/>
<line x1="633.88" y1="176.0" x2="633.88" y2="205.0" stroke="#b0b0b0" stroke-width="1"/>
<rect x="632.78" y="177.0" width="2.3" height="24.0" fill="#000000"/>
<line x1="636.58" y1="198.0" x2="636.58" y2="228.0" stroke="#b0b0b0" stroke-width="1"/>
<rect x="635.48" y="200.0" width="2.3" height="27.0" fill="#000000"/>
<line x1="639.28" y1="199.0" x2="639.28" y2="228.0" stroke="#bdbdbd" stroke-width="1"/>
<rect x="638.18" y="201.0" width="2.3" height="25.0" fill="#808080"/>
<line x1="641.98" y1="196.0" x2="641.98" y2="208.0" stroke="#bdbdbd" stroke-width="1"/>
<rect x="640.88" y="200.0" width="2.3" height="6.0" fill="#808080"/>
<line x1="644.68" y1="183.0" x2="644.68" y2="204.0" stroke="#bdbdbd" stroke-width="1"/>
<rect x="643.58" y="192.0" width="2.3" height="9.0" fill="#808080"/>
<line x1="647.38" y1="185.0" x2="647.38" y2="194.0" stroke="#bdbdbd" stroke-width="1"/>
<rect x="646.28" y="188.0" width="2.3" height="4.0" fill="#808080"/>
<line x1="650.08" y1="176.0" x2="650.08" y2="190.0" stroke="#bdbdbd" stroke-width="1"/>
<rect x="648.98" y="186.0" width="2.3" height="2.0" fill="#808080"/>
<line x1="652.77" y1="182.0" x2="652.77" y2="196.0" stroke="#b0b0b0" stroke-width="1"/>
<rect x="651.67" y="192.0" width="2.3" height="2.0" fill="#000000"/>
<line x1="655.47" y1="193.0" x2="655.47" y2="217.0" stroke="#b0b0b0" stroke-width="1"/>
<rect x="654.37" y="195.0" width="2.3" height="20.0" fill="#000000"/>
<line x1="658.17" y1="209.0" x2="658.17" y2="220.0" stroke="#b0b0b0" stroke-width="1"/>
<rect x="657.07" y="216.0" width="2.3" height="3.0" fill="#000000"/>
<line x1="660.87" y1="219.0" x2="660.87" y2="233.0" stroke="#b0b0b0" stroke-width="1"/>
<rect x="659.77" y="220.0" width="2.3" height="11.0" fill="#000000"/>
<line x1="663.57" y1="205.0" x2="663.57" y2="234.0" stroke="#bdbdbd" stroke-width="1"/>
<rect x="662.47" y="209.0" width="2.3" height="22.0" fill="#808080"/>
<line x1="666.27" y1="205.0" x2="666.27" y2="214.0" stroke="#bdbdbd" stroke-width="1"/>
<rect x="665.17" y="210.0" width="2.3" height="2.0" fill="#808080"/>
<line x1="668.97" y1="200.0" x2="668.97" y2="224.0" stroke="#b0b0b0" stroke-width="1"/>
<rect x="667.87" y="210.0" width="2.3" height="12.0" fill="#000000"/>
<line x1="671.66" y1="206.0" x2="671.66" y2="232.0" stroke="#b0b0b0" stroke-width="1"/>
<rect x="670.56" y="222.0" width="2.3" height="4.0" fill="#000000"/>
<line x1="674.36" y1="222.0" x2="674.36" y2="248.0" stroke="#b0b0b0" stroke-width="1"/>
<rect x="673.26" y="223.0" width="2.3" height="23.0" fill="#000000"/>
<line x1="677.06" y1="220.0" x2="677.06" y2="253.0" stroke="#bdbdbd" stroke-width="1"/>
<rect x="675.96" y="222.0" width="2.3" height="24.0" fill="#808080"/>
<line x1="679.76" y1="220.0" x2="679.76" y2="232.0" stroke="#b0b0b0" stroke-width="1"/>
<rect x="678.66" y="226.0" width="2.3" height="3.0" fill="#000000"/>
<line x1="682.46" y1="217.0" x2="682.46" y2="245.0" stroke="#b0b0b0" stroke-width="1"/>
<rect x="681.36" y="229.0" width="2.3" height="11.0" fill="#000000"/>
<line x1="685.16" y1="222.0" x2="685.16" y2="245.0" stroke="#bdbdbd" stroke-width="1"/>
<rect x="684.06" y="228.0" width="2.3" height="12.0" fill="#808080"/>
<line x1="687.86" y1="222.0" x2="687.86" y2="252.0" stroke="#b0b0b0" stroke-width="1"/>
<rect x="686.76" y="226.0" width="2.3" height="24.0" fill="#000000"/>
<line x1="690.55" y1="249.0" x2="690.55" y2="260.0" stroke="#b0b0b0" stroke-width="1"/>
<rect x="689.45" y="252.0" width="2.3" height="7.0" fill="#000000"/>
<line x1="693.25" y1="255.0" x2="693.25" y2="285.0" stroke="#b0b0b0" stroke-width="1"/>
<rect x="692.15" y="256.0" width="2.3" height="22.0" fill="#000000"/>
<line x1="695.95" y1="272.0" x2="695.95" y2="295.0" stroke="#b0b0b0" stroke-width="1"/>
<rect x="694.85" y="278.0" width="2.3" height="5.0" fill="#000000"/>
<line x1="698.65" y1="270.0" x2="698.65" y2="297.0" stroke="#bdbdbd" stroke-width="1"/>
<rect x="697.55" y="273.0" width="2.3" height="10.0" fill="#808080"/>
<line x1="701.35" y1="257.0" x2="701.35" y2="278.0" stroke="#bdbdbd" stroke-width="1"/>
<rect x="700.25" y="266.0" width="2.3" height="6.0" fill="#808080"/>
<line x1="704.05" y1="256.0" x2="704.05" y2="273.0" stroke="#b0b0b0" stroke-width="1"/>
<rect x="702.95" y="266.0" width="2.3" height="4.0" fill="#000000"/>
<line x1="706.75" y1="259.0" x2="706.75" y2="283.0" stroke="#bdbdbd" stroke-width="1"/>
<rect x="705.65" y="264.0" width="2.3" height="4.0" fill="#808080"/>
<line x1="709.44" y1="260.0" x2="709.44" y2="275.0" stroke="#b0b0b0" stroke-width="1"/>
<rect x="708.34" y="264.0" width="2.3" height="8.0" fill="#000000"/>
<line x1="712.14" y1="262.0" x2="712.14" y2="288.0" stroke="#bdbdbd" stroke-width="1"/>
<rect x="711.04" y="267.0" width="2.3" height="5.0" fill="#808080"/>
<line x1="714.84" y1="254.0" x2="714.84" y2="276.0" stroke="#bdbdbd" stroke-width="1"/>
<rect x="713.74" y="258.0" width="2.3" height="8.0" fill="#808080"/>
<line x1="717.54" y1="254.0" x2="717.54" y2="282.0" stroke="#b0b0b0" stroke-width="1"/>
<rect x="716.44" y="258.0" width="2.3" height="20.0" fill="#000000"/>
<line x1="720.24" y1="263.0" x2="720.24" y2="284.0" stroke="#bdbdbd" stroke-width="1"/>
<rect x="719.14" y="272.0" width="2.3" height="11.0" fill="#808080"/>
<line x1="722.94" y1="254.0" x2="722.94" y2="274.0" stroke="#bdbdbd" stroke-width="1"/>
<rect x="721.84" y="258.0" width="2.3" height="14.0" fill="#808080"/>
<line x1="725.64" y1="254.0" x2="725.64" y2="267.0" stroke="#b0b0b0" stroke-width="1"/>
<rect x="724.54" y="258.0" width="2.3" height="7.0" fill="#000000"/>
<line x1="728.33" y1="252.0" x2="728.33" y2="268.0" stroke="#bdbdbd" stroke-width="1"/>
<rect x="727.23" y="256.0" width="2.3" height="9.0" fill="#808080"/>
<line x1="731.03" y1="253.0" x2="731.03" y2="276.0" stroke="#b0b0b0" stroke-width="1"/>
<rect x="729.93" y="256.0" width="2.3" height="18.0" fill="#000000"/>
<line x1="733.73" y1="270.0" x2="733.73" y2="285.0" stroke="#b0b0b0" stroke-width="1"/>
<rect x="732.63" y="274.0" width="2.3" height="9.0" fill="#000000"/>
<line x1="736.43" y1="273.0" x2="736.43" y2="288.0" stroke="#b0b0b0" stroke-width="1"/>
<rect x="735.33" y="278.0" width="2.3" height="5.0" fill="#000000"/>
<line x1="739.13" y1="260.0" x2="739.13" y2="285.0" stroke="#bdbdbd" stroke-width="1"/>
<rect x="738.03" y="266.0" width="2.3" height="11.0" fill="#808080"/>
<line x1="741.83" y1="265.0" x2="741.83" y2="283.0" stroke="#b0b0b0" stroke-width="1"/>
<rect x="740.73" y="266.0" width="2.3" height="15.0" fill="#000000"/>
<line x1="744.53" y1="263.0" x2="744.53" y2="286.0" stroke="#bdbdbd" stroke-width="1"/>
<rect x="743.43" y="268.0" width="2.3" height="13.0" fill="#808080"/>
<line x1="747.22" y1="267.0" x2="747.22" y2="283.0" stroke="#b0b0b0" stroke-width="1"/>
<rect x="746.12" y="268.0" width="2.3" height="13.0" fill="#000000"/>
<line x1="749.92" y1="278.0" x2="749.92" y2="315.0" stroke="#b0b0b0" stroke-width="1"/>
<rect x="748.82" y="281.0" width="2.3" height="32.0" fill="#000000"/>
<line x1="752.62" y1="306.0" x2="752.62" y2="324.0" stroke="#b0b0b0" stroke-width="1"/>
<rect x="751.52" y="312.0" width="2.3" height="10.0" fill="#000000"/>
<line x1="755.32" y1="317.0" x2="755.32" y2="356.0" stroke="#b0b0b0" stroke-width="1"/>
<rect x="754.22" y="322.0" width="2.3" height="32.0" fill="#000000"/>
<line x1="758.02" y1="350.0" x2="758.02" y2="365.0" stroke="#b0b0b0" stroke-width="1"/>
<rect x="756.92" y="354.0" width="2.3" height="3.0" fill="#000000"/>
<line x1="760.72" y1="326.0" x2="760.72" y2="366.0" stroke="#bdbdbd" stroke-width="1"/>
<rect x="759.62" y="331.0" width="2.3" height="34.0" fill="#808080"/>
<line x1="763.42" y1="306.0" x2="763.42" y2="333.0" stroke="#bdbdbd" stroke-width="1"/>
<rect x="762.32" y="310.0" width="2.3" height="21.0" fill="#808080"/>
<line x1="766.12" y1="302.0" x2="766.12" y2="312.0" stroke="#bdbdbd" stroke-width="1"/>
<rect x="765.01" y="304.0" width="2.3" height="6.0" fill="#808080"/>
<line x1="768.81" y1="301.0" x2="768.81" y2="320.0" stroke="#b0b0b0" stroke-width="1"/>
<rect x="767.71" y="304.0" width="2.3" height="14.0" fill="#000000"/>
<line x1="771.51" y1="288.0" x2="771.51" y2="327.0" stroke="#bdbdbd" stroke-width="1"/>
<rect x="770.41" y="290.0" width="2.3" height="35.0" fill="#808080"/>
<line x1="774.21" y1="288.0" x2="774.21" y2="300.0" stroke="#b0b0b0" stroke-width="1"/>
<rect x="773.11" y="290.0" width="2.3" height="5.0" fill="#000000"/>
<line x1="776.91" y1="279.0" x2="776.91" y2="299.0" stroke="#bdbdbd" stroke-width="1"/>
<rect x="775.81" y="289.0" width="2.3" height="6.0" fill="#808080"/>
<line x1="779.61" y1="262.0" x2="779.61" y2="292.0" stroke="#bdbdbd" stroke-width="1"/>
<rect x="778.51" y="269.0" width="2.3" height="21.0" fill="#808080"/>
<line x1="782.31" y1="253.0" x2="782.31" y2="273.0" stroke="#bdbdbd" stroke-width="1"/>
<rect x="781.21" y="257.0" width="2.3" height="13.0" fill="#808080"/>
<line x1="785.01" y1="254.3" x2="785.01" y2="257.7" stroke="#bdbdbd" stroke-width="1"/>
<rect x="783.91" y="254.8" width="2.3" height="1.8" fill="#808080"/>
</g>
<g clip-path="url(#cp)">
<line x1="6.0" y1="36.5" x2="970.0" y2="36.5" stroke="#767676" stroke-width="1" />
<line x1="6.0" y1="390.8" x2="970.0" y2="390.8" stroke="#909090" stroke-width="1" />
<line x1="6.0" y1="398.4" x2="970.0" y2="398.4" stroke="#7a7a7a" stroke-width="1" />
<line x1="199.6" y1="414.9" x2="970.0" y2="414.9" stroke="#909090" stroke-width="1" />
<line x1="6.0" y1="250.4" x2="970.0" y2="250.4" stroke="#8a8a8a" stroke-width="1" />
<line x1="485.6" y1="77.2" x2="970.0" y2="77.2" stroke="#ff40ff" stroke-width="1" />
<line x1="485.6" y1="251.0" x2="970.0" y2="251.0" stroke="#ff00ff" stroke-width="1" />
<line x1="734.0" y1="250.7" x2="970.0" y2="250.7" stroke="#7a1a7a" stroke-width="2" />
<line x1="6.0" y1="372.6" x2="300.0" y2="437.7" stroke="#4a90e2" stroke-width="1" />
<line x1="372.0" y1="195.0" x2="970.0" y2="257.5" stroke="#ff5050" stroke-width="1" />
<line x1="557.5" y1="77.0" x2="970.0" y2="337.8" stroke="#ffc4c4" stroke-width="1" />
<line x1="418.5" y1="36.5" x2="970.0" y2="197.2" stroke="#333333" stroke-width="1" />
<line x1="485.0" y1="206.5" x2="970.0" y2="348.0" stroke="#333333" stroke-width="1" />
<line x1="637.0" y1="227.0" x2="830.0" y2="450.0" stroke="#333333" stroke-width="1" />
<line x1="452.3" y1="122.0" x2="970.0" y2="272.5" stroke="#111111" stroke-width="1.6" />
<polyline points="418.5,36.5 485,206.5 557.5,77" fill="none" stroke="#111111" stroke-width="1.6"/>
<rect x="75.5" y="246.6" width="658.5" height="7.9" fill="rgb(250,239,118)" fill-opacity="0.55" stroke="#a0a0a0" stroke-width="1"/>
<line x1="76.0" y1="247.6" x2="733.5" y2="247.6" stroke="#e2d890" stroke-width="0.8" />
<line x1="76.0" y1="250.7" x2="485.5" y2="250.7" stroke="#a39b62" stroke-width="1.6" />
<line x1="485.5" y1="250.7" x2="733.5" y2="250.7" stroke="#a86262" stroke-width="1.6" />
</g>
<text x="965.6" y="43" font-size="7.4" fill="#333" text-anchor="end" textLength="44.7" lengthAdjust="spacingAndGlyphs">0.00%(0.80072)</text>
<text x="965.6" y="397" font-size="7.4" fill="#333" text-anchor="end" textLength="48.4" lengthAdjust="spacingAndGlyphs">38.20%(0.70519)</text>
<text x="966" y="257" font-size="7.4" fill="#333" text-anchor="end" textLength="48.2" lengthAdjust="spacingAndGlyphs">23.60%(0.74170)</text>
<text x="437.8" y="83.5" font-size="7.4" fill="#ff00ff" textLength="45.2" lengthAdjust="spacingAndGlyphs">0.00%(0.78908)</text>
<text x="431.6" y="257.2" font-size="7.4" fill="#ff00ff" textLength="51.6" lengthAdjust="spacingAndGlyphs">100.00%(0.74154)</text>
<line x1="970.5" y1="16.0" x2="970.5" y2="456.5" stroke="#8a8a8a" stroke-width="1" />
<line x1="6.0" y1="436.5" x2="1018.0" y2="436.5" stroke="#8a8a8a" stroke-width="1" />
<text x="977" y="41.8" font-size="9.5" fill="#6a6a6a" textLength="31.2" lengthAdjust="spacingAndGlyphs" clip-path="url(#cpax)">0.80000</text>
<text x="977" y="76.8" font-size="9.5" fill="#6a6a6a" textLength="31.2" lengthAdjust="spacingAndGlyphs" clip-path="url(#cpax)">0.79000</text>
<text x="977" y="111.9" font-size="9.5" fill="#6a6a6a" textLength="31.2" lengthAdjust="spacingAndGlyphs" clip-path="url(#cpax)">0.78000</text>
<text x="977" y="148.0" font-size="9.5" fill="#6a6a6a" textLength="31.2" lengthAdjust="spacingAndGlyphs" clip-path="url(#cpax)">0.77000</text>
<text x="977" y="184.3" font-size="9.5" fill="#6a6a6a" textLength="31.2" lengthAdjust="spacingAndGlyphs" clip-path="url(#cpax)">0.76000</text>
<text x="977" y="221.6" font-size="9.5" fill="#6a6a6a" textLength="31.2" lengthAdjust="spacingAndGlyphs" clip-path="url(#cpax)">0.75000</text>
<text x="977" y="297.0" font-size="9.5" fill="#6a6a6a" textLength="31.2" lengthAdjust="spacingAndGlyphs" clip-path="url(#cpax)">0.73000</text>
<text x="977" y="319.7" font-size="9.5" fill="#6a6a6a" textLength="31.2" lengthAdjust="spacingAndGlyphs" clip-path="url(#cpax)">0.72400</text>
<text x="977" y="343.2" font-size="9.5" fill="#6a6a6a" textLength="31.2" lengthAdjust="spacingAndGlyphs" clip-path="url(#cpax)">0.71800</text>
<text x="977" y="366.8" font-size="9.5" fill="#6a6a6a" textLength="31.2" lengthAdjust="spacingAndGlyphs" clip-path="url(#cpax)">0.71200</text>
<text x="977" y="390.0" font-size="9.5" fill="#6a6a6a" textLength="31.2" lengthAdjust="spacingAndGlyphs" clip-path="url(#cpax)">0.70600</text>
<text x="977" y="437.8" font-size="9.5" fill="#6a6a6a" textLength="31.2" lengthAdjust="spacingAndGlyphs" clip-path="url(#cpax)">0.69400</text>
<defs><clipPath id="cpax"><rect x="971" y="16" width="47" height="420"/></clipPath></defs>
<rect x="970.5" y="392.3" width="42" height="12.2" rx="1.5" fill="#000"/>
<text x="976.5" y="401.8" font-size="9.4" font-weight="bold" fill="#fff" textLength="31" lengthAdjust="spacingAndGlyphs">0.70319</text>
<rect x="970.5" y="408.5" width="42" height="12.3" rx="1.5" fill="#000"/>
<text x="976.5" y="418.0" font-size="9.4" font-weight="bold" fill="#fff" textLength="31" lengthAdjust="spacingAndGlyphs">0.69913</text>
<rect x="970.5" y="245.0" width="42" height="10.0" rx="1.5" fill="#000"/>
<defs><clipPath id="cpbk"><rect x="970" y="245" width="48" height="4"/></clipPath></defs>
<text x="976.5" y="254" font-size="9.4" font-weight="bold" fill="#fff" textLength="31" lengthAdjust="spacingAndGlyphs" clip-path="url(#cpbk)">0.74170</text>
<rect x="970.5" y="249" width="44" height="23.5" rx="1.5" fill="#000"/>
<text x="976.5" y="259" font-size="9.4" font-weight="bold" fill="#fff" textLength="31" lengthAdjust="spacingAndGlyphs">0.74036</text>
<text x="976.5" y="269.5" font-size="9.4" fill="#fff" textLength="34" lengthAdjust="spacingAndGlyphs">22:19:04</text>
<rect x="970.5" y="16" width="42" height="6" fill="#000"/>
<text x="976.5" y="19.5" font-size="9.4" font-weight="bold" fill="#fff" textLength="31" lengthAdjust="spacingAndGlyphs" clip-path="url(#cptop)">0.80810</text>
<defs><clipPath id="cptop"><rect x="970" y="16" width="48" height="6"/></clipPath></defs>
<rect x="984.5" y="19.5" width="19.5" height="11.5" rx="2" fill="#fff" stroke="#e0e3eb" stroke-width="1"/>
<text x="986.8" y="27.6" font-size="9.8" fill="#666" textLength="15.2" lengthAdjust="spacingAndGlyphs">USD</text>
<text x="24.0" y="448.7" font-size="8.6" fill="#6a6a6a" text-anchor="middle">Aug</text>
<text x="80.7" y="448.7" font-size="8.6" fill="#6a6a6a" text-anchor="middle">Sep</text>
<text x="140.0" y="448.7" font-size="8.6" fill="#6a6a6a" text-anchor="middle">Oct</text>
<text x="199.0" y="448.7" font-size="8.6" fill="#6a6a6a" text-anchor="middle">Nov</text>
<text x="256.0" y="448.7" font-size="8.6" fill="#6a6a6a" text-anchor="middle">Dec</text>
<text x="423.2" y="448.7" font-size="8.6" fill="#6a6a6a" text-anchor="middle">Mar</text>
<text x="485.2" y="448.7" font-size="8.6" fill="#6a6a6a" text-anchor="middle">Apr</text>
<text x="545.0" y="448.7" font-size="8.6" fill="#6a6a6a" text-anchor="middle">May</text>
<text x="601.8" y="448.7" font-size="8.6" fill="#6a6a6a" text-anchor="middle">Jun</text>
<text x="661.0" y="448.7" font-size="8.6" fill="#6a6a6a" text-anchor="middle">Jul</text>
<text x="720.3" y="448.7" font-size="8.6" fill="#6a6a6a" text-anchor="middle">Aug</text>
<text x="779.6" y="448.7" font-size="8.6" fill="#6a6a6a" text-anchor="middle">Sep</text>
<text x="838.7" y="448.7" font-size="8.6" fill="#6a6a6a" text-anchor="middle">Oct</text>
<text x="896.0" y="448.7" font-size="8.6" fill="#6a6a6a" text-anchor="middle">Nov</text>
<text x="955.0" y="448.7" font-size="8.6" fill="#6a6a6a" text-anchor="middle">Dec</text>
<text x="315.4" y="448.7" font-size="8.6" font-weight="bold" fill="#444" text-anchor="middle">2021</text>
<g fill="#d1d4dc"><rect x="5.8" y="463.3" width="4.1" height="1.8"/><rect x="7.9" y="463.3" width="2.0" height="5.4"/><circle cx="11.7" cy="464.3" r="0.95"/><polygon points="13.8,463.3 16.1,463.3 14.1,468.7 12.0,468.7"/></g>
<text x="18.3" y="468.8" font-size="7.6" fill="#d1d4dc" textLength="40.5" lengthAdjust="spacingAndGlyphs">TradingView</text>
</svg></body></html>
